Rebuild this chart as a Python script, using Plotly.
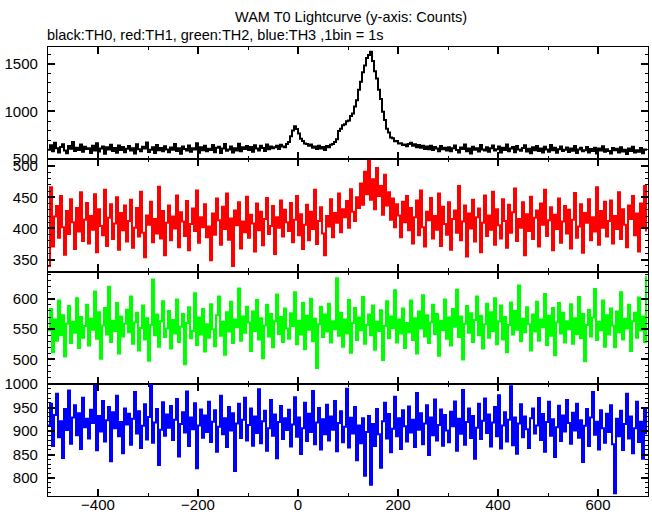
import plotly.graph_objects as go
from plotly.subplots import make_subplots

# time axis: 4-s samples from -500 s to 696 s
time = list(range(-500, 700, 4))

th0_black = [
    600, 646, 584, 672, 614, 570, 628, 656, 592, 562, 638, 610, 680, 586, 620, 596, 654, 578, 630, 606,
    616, 564, 642, 592, 668, 580, 612, 634, 558, 624, 602, 652, 586, 618, 568, 644, 596, 628, 574, 610,
    638, 590, 614, 560, 656, 604, 582, 630, 612, 674, 576, 600, 626, 566, 648, 594, 618, 584, 636, 602,
    572, 622, 598, 660, 586, 614, 556, 632, 608, 590, 644, 578, 616, 602, 666, 568, 624, 594, 640, 582,
    610, 596, 648, 574, 620, 630, 564, 612, 658, 588, 602, 634, 570, 616, 592, 662, 584, 626, 606, 638,
    596, 628, 578, 646, 612, 590, 640, 618, 586, 654, 604, 632, 614, 624, 642, 608, 652, 634, 626, 660,
    680, 740, 800, 845, 815, 770, 715, 690, 665, 660, 640, 655, 620, 634, 606, 642, 612, 628, 596, 638,
    626, 652, 660, 680, 710, 795, 818, 856, 866, 898, 905, 952, 978, 1052, 1118, 1228, 1310, 1410, 1480, 1560,
    1590, 1625, 1528, 1422, 1345, 1228, 1130, 998, 910, 820, 780, 728, 720, 688, 690, 664, 668, 648, 654, 636,
    660, 672, 640, 656, 626, 650, 620, 640, 608, 634, 604, 642, 596, 628, 612, 584, 638, 604, 620, 592,
    626, 582, 614, 644, 596, 570, 622, 606, 654, 584, 612, 560, 630, 598, 616, 580, 648, 602, 590, 624,
    579, 615, 643, 591, 605, 633, 569, 621, 597, 655, 583, 611, 627, 573, 639, 601, 589, 617, 647, 581,
    609, 563, 625, 595, 637, 587, 613, 571, 631, 601, 579, 649, 593, 619, 567, 605, 633, 585, 599, 623,
    575, 611, 589, 637, 565, 601, 619, 583, 595, 629, 571, 607, 585, 621, 561, 613, 591, 635, 577, 603,
    587, 559, 617, 593, 609, 571, 625, 581, 599, 555, 613, 587, 631, 569, 595, 579, 617, 563, 601, 589,
]

th1_red = [
    340, 466, 371, 419, 436, 385, 452, 402, 358, 428, 391, 447, 410, 367, 433, 395, 458, 380, 414, 441,
    376, 420, 398, 455, 362, 431, 404, 389, 462, 372, 417, 439, 383, 408, 450, 366, 425, 397, 437, 379,
    412, 446, 369, 401, 433, 387, 459, 393, 354, 421, 406, 443, 378, 415, 392, 467, 384, 428, 357, 409,
    437, 381, 419, 400, 453, 370, 426, 411, 388, 444, 365, 407, 432, 396, 461, 377, 418, 402, 439, 386,
    403, 349, 424, 390, 448, 413, 374, 435, 399, 456, 382, 416, 340, 429, 405, 442, 368, 411, 394, 451,
    385, 422, 408, 363, 440, 397, 427, 373, 415, 449, 391, 404, 436, 359, 418, 401, 445, 387, 430, 410,
    396, 441, 378, 414, 452, 389, 423, 367, 406, 438, 381, 427, 399, 462, 375, 412, 434, 392, 357, 420,
    403, 447, 386, 425, 409, 456, 394, 431, 418, 444, 401, 463, 427, 412, 450, 433, 472, 438, 491, 455,
    508, 446, 479, 431, 497, 452, 468, 422, 486, 437, 458, 414, 448, 402, 439, 421, 386, 443, 410, 452,
    397, 433, 376, 418, 445, 389, 461, 402, 371, 427, 413, 449, 384, 420, 398, 456, 372, 435, 407, 390,
    442, 366, 415, 429, 393, 468, 381, 411, 437, 355, 424, 400, 446, 379, 418, 432, 362, 409, 453, 388,
    421, 398, 459, 374, 431, 405, 384, 447, 412, 369, 438, 393, 426, 464, 380, 415, 401, 442, 357, 423,
    396, 451, 383, 417, 429, 371, 440, 406, 462, 388, 413, 434, 365, 422, 399, 448, 377, 411, 436, 392,
    430, 368, 414, 457, 385, 403, 439, 361, 425, 409, 447, 381, 418, 395, 466, 374, 428, 401, 443, 387,
    412, 445, 376, 420, 399, 458, 383, 431, 406, 370, 437, 415, 452, 389, 424, 363, 440, 403, 468, 395,
]

th2_green = [
    548, 583, 512, 566, 531, 597, 540, 573, 505, 559, 588, 527, 562, 544, 601, 519, 570, 536, 555, 590,
    523, 567, 549, 612, 534, 578, 501, 556, 585, 541, 620, 529, 564, 547, 593, 510, 571, 538, 559, 582,
    545, 604, 526, 561, 577, 515, 552, 589, 533, 568, 498, 557, 632, 540, 574, 521, 563, 596, 537, 551,
    580, 518, 565, 543, 599, 529, 554, 575, 492, 560, 586, 535, 547, 609, 524, 569, 541, 583, 513, 558,
    536, 591, 550, 522, 573, 604, 539, 562, 508, 578, 546, 595, 527, 566, 553, 617, 531, 571, 544, 587,
    561, 514, 579, 547, 598, 533, 568, 502, 556, 590, 538, 575, 520, 563, 607, 542, 570, 529, 584, 551,
    534, 576, 555, 611, 525, 564, 541, 593, 517, 572, 549, 600, 530, 567, 486, 558, 587, 537, 574, 546,
    592, 528, 563, 550, 634, 539, 577, 521, 566, 543, 598, 511, 560, 585, 532, 569, 548, 603, 526, 557,
    574, 540, 589, 516, 562, 547, 581, 499, 555, 596, 535, 571, 552, 614, 528, 566, 543, 584, 519, 560,
    545, 597, 532, 568, 510, 579, 551, 606, 538, 573, 527, 561, 590, 542, 575, 506, 564, 548, 599, 534,
    569, 523, 583, 554, 615, 537, 571, 500, 559, 588, 544, 576, 529, 565, 604, 540, 572, 518, 558, 592,
    536, 578, 547, 601, 525, 563, 589, 533, 570, 512, 557, 594, 541, 580, 549, 622, 530, 567, 545, 586,
    558, 515, 574, 546, 595, 531, 566, 553, 608, 524, 572, 539, 585, 507, 561, 593, 543, 577, 528, 563,
    550, 591, 526, 568, 542, 603, 535, 575, 497, 557, 582, 538, 569, 616, 532, 562, 548, 597, 521, 573,
    541, 584, 556, 520, 579, 545, 611, 533, 567, 551, 590, 514, 563, 577, 536, 602, 548, 571, 529, 638,
]

th3_blue = [
    912, 958, 868, 934, 979, 887, 921, 843, 947, 902, 986, 873, 929, 955, 891, 938, 862, 971, 908, 926,
    884, 945, 917, 996, 859, 932, 899, 964, 878, 923, 951, 836, 940, 906, 975, 889, 919, 853, 948, 914,
    937, 871, 926, 983, 895, 942, 864, 911, 957, 882, 930, 999, 875, 918, 947, 828, 903, 961, 890, 935,
    907, 953, 881, 924, 968, 846, 915, 940, 897, 984, 868, 929, 904, 959, 821, 912, 946, 886, 933, 898,
    962, 877, 920, 944, 856, 909, 975, 893, 927, 866, 951, 901, 938, 815, 916, 958, 885, 924, 971, 880,
    913, 948, 869, 931, 896, 989, 874, 921, 943, 858, 906, 966, 890, 935, 842, 919, 953, 883, 927, 902,
    945, 867, 914, 972, 888, 929, 851, 906, 960, 879, 937, 898, 985, 872, 918, 949, 861, 925, 893, 956,
    880, 931, 903, 964, 857, 917, 942, 876, 909, 990, 865, 928, 895, 951, 838, 912, 874, 927, 805, 898,
    932, 786, 915, 868, 947, 893, 822, 921, 960, 884, 936, 855, 905, 973, 889, 927, 862, 944, 910, 878,
    952, 897, 924, 866, 981, 903, 938, 872, 916, 955, 849, 929, 891, 967, 880, 913, 946, 869, 934, 901,
    876, 941, 910, 963, 858, 926, 894, 987, 871, 919, 948, 885, 932, 841, 907, 958, 883, 922, 969, 896,
    935, 867, 918, 951, 889, 976, 863, 912, 940, 878, 924, 995, 870, 929, 852, 916, 957, 887, 931, 904,
    864, 927, 948, 895, 912, 970, 881, 936, 856, 919, 962, 890, 925, 845, 908, 954, 879, 933, 899, 966,
    917, 873, 939, 901, 958, 886, 923, 834, 911, 947, 868, 929, 983, 892, 920, 861, 944, 906, 875, 937,
    898, 955, 872, 768, 926, 889, 943, 860, 915, 979, 884, 931, 853, 906, 962, 877, 920, 841, 949, 893,
]

series = [th0_black, th1_red, th2_green, th3_blue]
colors = ["#000000", "#ff0000", "#00ff00", "#0000ff"]
names = ["TH0", "TH1", "TH2", "TH3"]
y_ranges = [[499.5, 1675], [331, 511], [460, 645], [762, 1000.5]]
y_dticks = [500, 50, 50, 50]
y_minor = [100, 10, 10, 10]

x_ticks = [-400, -200, 0, 200, 400, 600]

fig = make_subplots(rows=4, cols=1, shared_xaxes=True, vertical_spacing=0)

FONT = "Liberation Sans, Arial, Helvetica, sans-serif"

for i, (ys, c, n) in enumerate(zip(series, colors, names)):
    fig.add_trace(
        go.Scatter(x=time, y=ys, mode="lines", line=dict(color=c, width=2, shape="hv"),
                   name=n, showlegend=False, hoverinfo="skip"),
        row=i + 1, col=1,
    )
    fig.update_yaxes(
        range=y_ranges[i], dtick=y_dticks[i], tick0=0, automargin=False,
        ticks="inside", ticklen=7, tickwidth=1.5, tickcolor="black",
        minor=dict(ticks="inside", dtick=y_minor[i], ticklen=3, tickwidth=1, tickcolor="black"),
        showline=True, linecolor="black", linewidth=1.2, mirror="ticks",
        showgrid=False, zeroline=False,
        tickfont=dict(family=FONT, size=15, color="black"),
        ticklabelstandoff=6,
        row=i + 1, col=1,
    )
    fig.update_xaxes(
        range=[-500, 700], tickvals=x_ticks, automargin=False,
        ticks="inside", ticklen=7, tickwidth=1.5, tickcolor="black",
        minor=dict(ticks="inside", dtick=100, tick0=0, ticklen=3, tickwidth=1, tickcolor="black"),
        showline=True, linecolor="black", linewidth=1.2, mirror="ticks",
        showgrid=False, zeroline=False,
        showticklabels=(i == 3),
        tickfont=dict(family=FONT, size=15, color="black"),
        ticklabelstandoff=-5,
        row=i + 1, col=1,
    )

# equal-height stacked panels
for i in range(4):
    top = 1 - i / 4
    bot = 1 - (i + 1) / 4
    fig.layout[f"yaxis{'' if i == 0 else i + 1}"].domain = [bot, top]

fig.add_annotation(text="WAM T0 Lightcurve (y-axis: Counts)", xref="paper", yref="paper",
                   x=0.505, y=1.067, xanchor="center", yanchor="middle", showarrow=False,
                   font=dict(family=FONT, size=14.5, color="black"))
fig.add_annotation(text="black:TH0, red:TH1, green:TH2, blue:TH3 ,1bin = 1s", xref="paper", yref="paper",
                   x=-0.005, y=1.026, xanchor="left", yanchor="middle", showarrow=False,
                   font=dict(family=FONT, size=14.5, color="black"))

fig.update_layout(
    width=652, height=515,
    margin=dict(l=48, r=4, t=47, b=19, autoexpand=False),
    paper_bgcolor="white", plot_bgcolor="white",
    showlegend=False, hovermode=False,
)

fig.write_html("out.html", config={"displayModeBar": False},
               post_script="document.body.style.margin='0px';document.body.style.overflow='hidden';")
